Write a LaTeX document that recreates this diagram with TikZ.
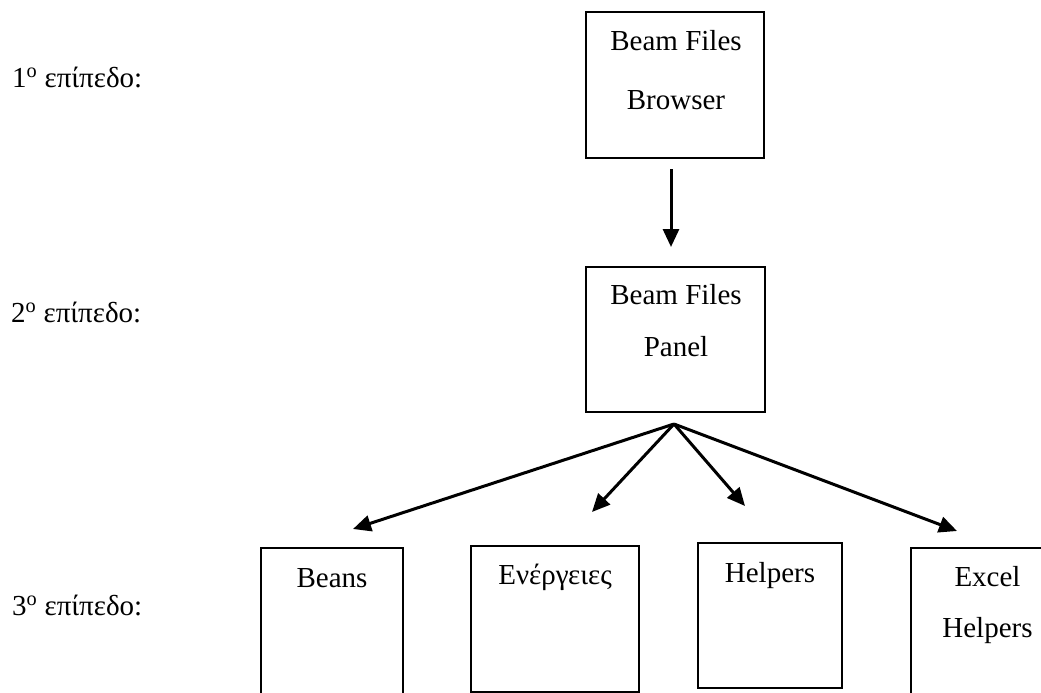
\documentclass[tikz,border=0pt]{standalone}
\usepackage{fontspec}
\setmainfont{Liberation Serif}
\usetikzlibrary{arrows.meta}
\begin{document}
\begin{tikzpicture}[x=1pt,y=-1pt,
  box/.style={draw,line width=2pt,inner sep=0pt},
  txt/.style={anchor=base,inner sep=0pt,font=\fontsize{29}{34}\selectfont},
  lvl/.style={anchor=base west,inner sep=0pt,font=\fontsize{29}{34}\selectfont},
  arr/.style={-{Triangle[length=18pt,width=16pt]},line width=3pt}]
\useasboundingbox (0,0) rectangle (1041,693);
\clip (0,0) rectangle (1041,693);

% level labels
\node[lvl] (l1) at (12,87)  {1\textsuperscript{o} επίπεδο:};
\node[lvl] (l2) at (11,322) {2\textsuperscript{o} επίπεδο:};
\node[lvl] (l3) at (12,615) {3\textsuperscript{o} επίπεδο:};

% boxes
\node[box,minimum width=178pt,minimum height=146pt] (browser) at (675,85) {};
\node[box,minimum width=179pt,minimum height=145pt] (panel) at (675.5,339.5) {};
\node[box,minimum width=142pt,minimum height=148pt] (beans) at (332,622) {};
\node[box,minimum width=168pt,minimum height=146pt] (energ) at (555,619) {};
\node[box,minimum width=144pt,minimum height=145pt] (helpers) at (770,615.5) {};
\node[box,minimum width=153pt,minimum height=148pt] (excel) at (987.5,622) {};

% box captions
\node[txt] (t1a) at (676,51)  {Beam Files};
\node[txt] (t1b) at (676,109) {Browser};
\node[txt] (t2a) at (676,304) {Beam Files};
\node[txt] (t2b) at (676,356) {Panel};
\node[txt] (t3)  at (332,587) {Beans};
\node[txt] (t4)  at (555,584) {Ενέργειες};
\node[txt] (t5)  at (770,582) {Helpers};
\node[txt] (t6a) at (987.5,586) {Excel};
\node[txt] (t6b) at (987.5,637) {Helpers};

% connectors
\draw[arr] ([xshift=-4pt,yshift=-10pt]browser.south) -- ([xshift=-4.5pt,yshift=19pt]panel.north);
\coordinate (fan) at ([xshift=-1.5pt,yshift=-11pt]panel.south);
\draw[arr] (fan) -- ([xshift=21pt,yshift=18pt]beans.north);
\draw[arr] (fan) -- ([xshift=37pt,yshift=33pt]energ.north);
\draw[arr] (fan) -- ([xshift=-25pt,yshift=36pt]helpers.north);
\draw[arr] (fan) -- ([xshift=47pt,yshift=16pt]excel.north west);
\end{tikzpicture}
\end{document}
